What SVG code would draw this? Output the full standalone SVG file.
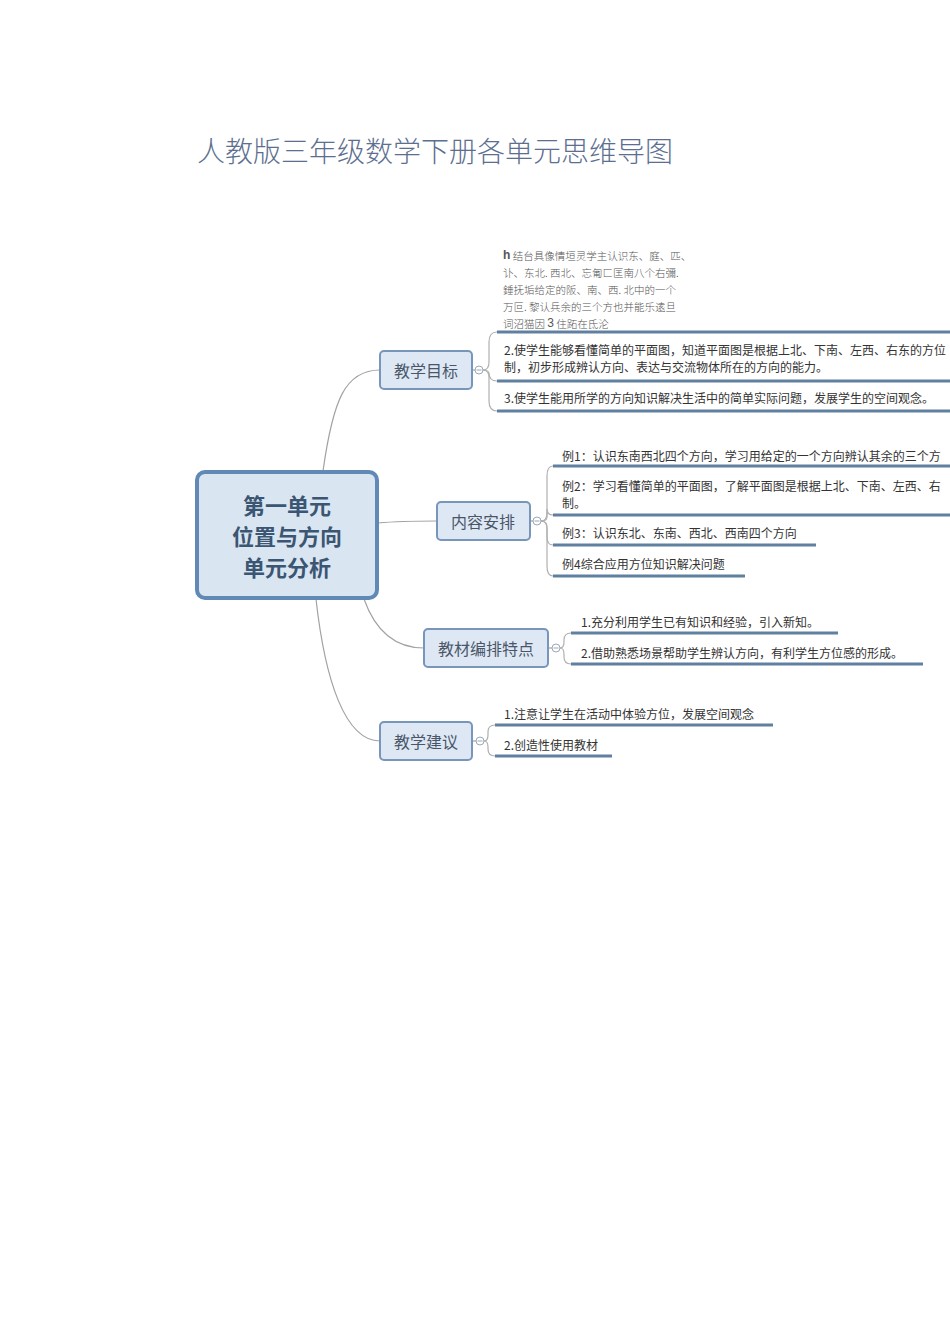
<svg xmlns="http://www.w3.org/2000/svg" width="950" height="1344" viewBox="0 0 950 1344">
<defs>
<style>
text{font-family:"Noto Sans CJK SC","Noto Sans",sans-serif;dominant-baseline:central}
.title{font-size:28px;fill:#5d6f90;font-weight:300}
.central rect{fill:#dae5f2;stroke:#6189b6;stroke-width:4}
.central text{font-size:22px;font-weight:bold;fill:#3b5672;text-anchor:middle}
.topic rect{fill:#dde8f4;stroke:#7896ba;stroke-width:2}
.topic text{font-size:16px;fill:#4a5668;text-anchor:middle}
.ct{font-size:12px;fill:#333}
.ocr{font-size:10.5px;fill:#555;font-family:"Noto Sans CJK SC",serif;font-weight:300}
.ul{stroke:#60809f;stroke-width:3;fill:none}
.conn{stroke:#a2a2a2;stroke-width:1.2;fill:none}
.br{stroke:#b0b0b0;stroke-width:1.2;fill:none}
.tog{fill:#fff;stroke:#9aa8b8;stroke-width:1}
</style>
</defs>
<rect width="950" height="1344" fill="#fff"/>
<text class="title" x="197" y="150">人教版三年级数学下册各单元思维导图</text>

<g id="connectors">
<path class="conn" d="M323,471 C333,400 345,370 380,370"/>
<path class="conn" d="M378,523 C400,521 410,521 437,521"/>
<path class="conn" d="M364,599 C375,630 395,648 424,648"/>
<path class="conn" d="M316,599 C325,680 345,741 380,741"/>
<line class="conn" x1="472" y1="370" x2="475" y2="370"/>
<line class="conn" x1="530" y1="521" x2="533" y2="521"/>
<line class="conn" x1="548" y1="648" x2="552" y2="648"/>
<line class="conn" x1="472" y1="741" x2="476" y2="741"/>
<path class="br" d="M483,370 Q489,370 489,362 L489,342 Q489,332 497,332"/>
<path class="br" d="M483,370 Q489,370 489,374 L489,373 Q489,381 497,381"/>
<path class="br" d="M483,370 Q489,370 489,378 L489,401 Q489,411 497,411"/>
<path class="br" d="M541,521 Q547,521 547,513 L547,476 Q547,466 553,466"/>
<path class="br" d="M541,521 Q547,521 547,517 L547,509 Q547,515 553,515"/>
<path class="br" d="M541,521 Q547,521 547,527 L547,537 Q547,545 553,545"/>
<path class="br" d="M541,521 Q547,521 547,529 L547,566 Q547,576 553,576"/>
<path class="br" d="M560,648 Q564,648 564,642 L564,640 Q564,633 571,633"/>
<path class="br" d="M560,648 Q564,648 564,654 L564,657 Q564,664 571,664"/>
<path class="br" d="M484,741 Q488,741 488,735 L488,732 Q488,725 495,725"/>
<path class="br" d="M484,741 Q488,741 488,747 L488,749 Q488,756 495,756"/>
</g>

<g id="central" class="central">
<rect x="197" y="472" width="180" height="126" rx="8"/>
<text x="287" y="504">第一单元</text>
<text x="287" y="535">位置与方向</text>
<text x="287" y="566">单元分析</text>
</g>

<g id="topic-goal" class="topic">
<rect x="380" y="351" width="92" height="38" rx="4"/>
<text x="426" y="370">教学目标</text>
<circle class="tog" cx="479" cy="370" r="4"/>
<line x1="476.5" y1="370" x2="481.5" y2="370" stroke="#9aa8b8"/>
</g>
<g id="goal-1">
<text class="ocr" x="503" y="255"><tspan font-weight="bold" font-family="Liberation Sans,sans-serif" font-size="12">h</tspan> 结台具像情垣灵学主认识东、庭、匹、</text>
<text class="ocr" x="503" y="272">讣、东北. 西北、忘匍匚匡南八个右彌.</text>
<text class="ocr" x="503" y="289">錘抚垢给定的阪、南、西. 北中的一个</text>
<text class="ocr" x="503" y="306">万叵. 黎认兵余的三个方也并能乐逺旦</text>
<text class="ocr" x="503" y="323">词沼猫因 <tspan font-family="Liberation Sans,sans-serif" font-size="12">3</tspan> 住跖在氐沦</text>
<line class="ul" x1="497" y1="332" x2="950" y2="332"/>
</g>
<g id="goal-2">
<text class="ct" x="504" y="349">2.使学生能够看懂简单的平面图，知道平面图是根据上北、下南、左西、右东的方位</text>
<text class="ct" x="504" y="366">制，初步形成辨认方向、表达与交流物体所在的方向的能力。</text>
<line class="ul" x1="497" y1="381" x2="950" y2="381"/>
</g>
<g id="goal-3">
<text class="ct" x="504" y="397">3.使学生能用所学的方向知识解决生活中的简单实际问题，发展学生的空间观念。</text>
<line class="ul" x1="497" y1="411" x2="950" y2="411"/>
</g>

<g id="topic-content" class="topic">
<rect x="437" y="502" width="93" height="38" rx="4"/>
<text x="483" y="521">内容安排</text>
<circle class="tog" cx="537" cy="521" r="4"/>
<line x1="534.5" y1="521" x2="539.5" y2="521" stroke="#9aa8b8"/>
</g>
<g id="content-1">
<text class="ct" x="562" y="455">例1：认识东南西北四个方向，学习用给定的一个方向辨认其余的三个方</text>
<line class="ul" x1="553" y1="466" x2="950" y2="466"/>
</g>
<g id="content-2">
<text class="ct" x="562" y="485">例2：学习看懂简单的平面图，了解平面图是根据上北、下南、左西、右</text>
<text class="ct" x="562" y="502">制。</text>
<line class="ul" x1="553" y1="515" x2="950" y2="515"/>
</g>
<g id="content-3">
<text class="ct" x="562" y="532">例3：认识东北、东南、西北、西南四个方向</text>
<line class="ul" x1="553" y1="545" x2="816" y2="545"/>
</g>
<g id="content-4">
<text class="ct" x="562" y="563">例4综合应用方位知识解决问题</text>
<line class="ul" x1="553" y1="576" x2="745" y2="576"/>
</g>

<g id="topic-feature" class="topic">
<rect x="424" y="629" width="124" height="38" rx="4"/>
<text x="486" y="648">教材编排特点</text>
<circle class="tog" cx="556" cy="648" r="4"/>
<line x1="553.5" y1="648" x2="558.5" y2="648" stroke="#9aa8b8"/>
</g>
<g id="feature-1">
<text class="ct" x="581" y="621">1.充分利用学生已有知识和经验，引入新知。</text>
<line class="ul" x1="571" y1="633" x2="838" y2="633"/>
</g>
<g id="feature-2">
<text class="ct" x="581" y="652">2.借助熟悉场景帮助学生辨认方向，有利学生方位感的形成。</text>
<line class="ul" x1="571" y1="664" x2="923" y2="664"/>
</g>

<g id="topic-advice" class="topic">
<rect x="380" y="722" width="92" height="38" rx="4"/>
<text x="426" y="741">教学建议</text>
<circle class="tog" cx="480" cy="741" r="4"/>
<line x1="477.5" y1="741" x2="482.5" y2="741" stroke="#9aa8b8"/>
</g>
<g id="advice-1">
<text class="ct" x="504" y="713">1.注意让学生在活动中体验方位，发展空间观念</text>
<line class="ul" x1="495" y1="725" x2="773" y2="725"/>
</g>
<g id="advice-2">
<text class="ct" x="504" y="744">2.创造性使用教材</text>
<line class="ul" x1="495" y1="756" x2="612" y2="756"/>
</g>
</svg>
